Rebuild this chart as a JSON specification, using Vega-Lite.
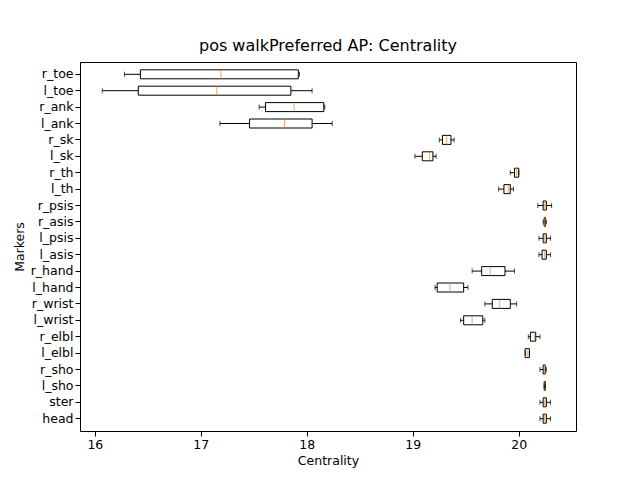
{
  "$schema": "https://vega.github.io/schema/vega-lite/v6.json",
  "width": 496,
  "height": 369,
  "padding": {"left": 13, "top": 38, "right": 60, "bottom": 10},
  "title": {"text": "pos walkPreferred AP: Centrality", "fontSize": 16, "fontWeight": "normal", "font": "DejaVu Sans", "color": "black", "offset": 8},
  "config": {
    "font": "DejaVu Sans",
    "view": {"stroke": "black"},
    "axis": {"grid": false, "domain": false, "labelFontSize": 12.5, "titleFontSize": 12.5, "titleFontWeight": "normal", "labelColor": "black", "titleColor": "black", "tickColor": "black"}
  },
  "data": {"values": [
    {"m": "r_toe", "lo": 16.28, "q1": 16.43, "med": 17.19, "q3": 17.92, "hi": 17.93},
    {"m": "l_toe", "lo": 16.07, "q1": 16.41, "med": 17.15, "q3": 17.85, "hi": 18.05},
    {"m": "r_ank", "lo": 17.55, "q1": 17.61, "med": 17.88, "q3": 18.16, "hi": 18.17},
    {"m": "l_ank", "lo": 17.18, "q1": 17.46, "med": 17.79, "q3": 18.05, "hi": 18.24},
    {"m": "r_sk", "lo": 19.25, "q1": 19.28, "med": 19.32, "q3": 19.36, "hi": 19.39},
    {"m": "l_sk", "lo": 19.02, "q1": 19.09, "med": 19.16, "q3": 19.19, "hi": 19.22},
    {"m": "r_th", "lo": 19.92, "q1": 19.96, "med": 19.98, "q3": 20.0, "hi": 20.0},
    {"m": "l_th", "lo": 19.81, "q1": 19.86, "med": 19.9, "q3": 19.92, "hi": 19.95},
    {"m": "r_psis", "lo": 20.18, "q1": 20.23, "med": 20.245, "q3": 20.26, "hi": 20.31},
    {"m": "r_asis", "lo": 20.23, "q1": 20.24, "med": 20.245, "q3": 20.25, "hi": 20.26},
    {"m": "l_psis", "lo": 20.19, "q1": 20.23, "med": 20.245, "q3": 20.26, "hi": 20.3},
    {"m": "l_asis", "lo": 20.19, "q1": 20.22, "med": 20.245, "q3": 20.26, "hi": 20.3},
    {"m": "r_hand", "lo": 19.56, "q1": 19.65, "med": 19.73, "q3": 19.87, "hi": 19.96},
    {"m": "l_hand", "lo": 19.21, "q1": 19.23, "med": 19.35, "q3": 19.48, "hi": 19.52},
    {"m": "r_wrist", "lo": 19.68, "q1": 19.75, "med": 19.82, "q3": 19.92, "hi": 19.98},
    {"m": "l_wrist", "lo": 19.45, "q1": 19.48, "med": 19.56, "q3": 19.66, "hi": 19.68},
    {"m": "r_elbl", "lo": 20.09, "q1": 20.11, "med": 20.15, "q3": 20.16, "hi": 20.2},
    {"m": "l_elbl", "lo": 20.06, "q1": 20.06, "med": 20.08, "q3": 20.1, "hi": 20.1},
    {"m": "r_sho", "lo": 20.2, "q1": 20.23, "med": 20.245, "q3": 20.25, "hi": 20.26},
    {"m": "l_sho", "lo": 20.24, "q1": 20.24, "med": 20.245, "q3": 20.25, "hi": 20.25},
    {"m": "ster", "lo": 20.2, "q1": 20.23, "med": 20.245, "q3": 20.26, "hi": 20.3},
    {"m": "head", "lo": 20.2, "q1": 20.23, "med": 20.245, "q3": 20.26, "hi": 20.3}
  ]},
  "encoding": {
    "y": {"field": "m", "type": "nominal", "sort": null, "title": "Markers", "scale": {"paddingInner": 0, "paddingOuter": 0.25}}
  },
  "layer": [
    {"mark": {"type": "rule", "color": "black", "strokeWidth": 1},
     "encoding": {"x": {"field": "lo", "type": "quantitative", "title": "Centrality", "scale": {"domain": [15.86, 20.54], "nice": false, "zero": false}, "axis": {"values": [16, 17, 18, 19, 20], "format": "d"}}, "x2": {"field": "hi"}}},
    {"mark": {"type": "bar", "fill": "white", "stroke": "black", "strokeWidth": 1, "height": 9, "cornerRadius": 0},
     "encoding": {"x": {"field": "q1", "type": "quantitative"}, "x2": {"field": "q3"}}},
    {"mark": {"type": "tick", "color": "#ff7f0e", "size": 9, "thickness": 1},
     "encoding": {"x": {"field": "med", "type": "quantitative"}}},
    {"mark": {"type": "tick", "color": "black", "size": 5, "thickness": 1},
     "encoding": {"x": {"field": "lo", "type": "quantitative"}}},
    {"mark": {"type": "tick", "color": "black", "size": 5, "thickness": 1},
     "encoding": {"x": {"field": "hi", "type": "quantitative"}}}
  ]
}
